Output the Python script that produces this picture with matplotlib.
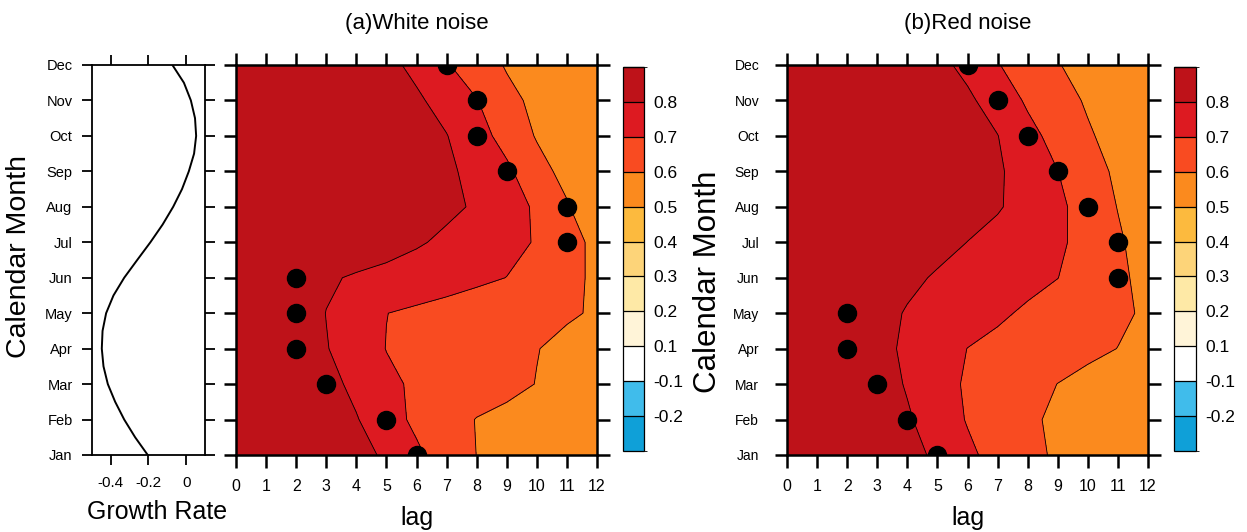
import numpy as np
import matplotlib.pyplot as plt
from matplotlib.colors import ListedColormap, BoundaryNorm

plt.rcParams['font.family'] = ['Liberation Sans', 'DejaVu Sans']

# ------------------------------------------------------------
# Data
# ------------------------------------------------------------
MONTHS = ["Jan", "Feb", "Mar", "Apr", "May", "Jun",
          "Jul", "Aug", "Sep", "Oct", "Nov", "Dec"]
MONTH_POS = list(range(1, 13))
LAGS = list(range(0, 13))

# growth rate curve, sampled every half month (Jan .. Dec)
GROWTH_POS = [1, 1.5, 2, 2.5, 3, 3.5, 4, 4.5, 5, 5.5, 6, 6.5,
              7, 7.5, 8, 8.5, 9, 9.5, 10, 10.5, 11, 11.5, 12]
GROWTH_RATE = [-0.204, -0.271, -0.329, -0.377, -0.416, -0.439, -0.448, -0.444,
               -0.425, -0.386, -0.329, -0.260, -0.190, -0.125, -0.069, -0.022,
               0.014, 0.042, 0.053, 0.047, 0.025, -0.012, -0.073]

# lagged correlation, rows = month (Jan .. Dec), columns = lag 0 .. 12
WHITE_NOISE = [
    [1.00, 0.958, 0.916, 0.875, 0.833, 0.785, 0.716, 0.655, 0.599, 0.582, 0.565, 0.547, 0.530],
    [1.00, 0.951, 0.903, 0.854, 0.806, 0.739, 0.681, 0.637, 0.597, 0.580, 0.564, 0.547, 0.530],
    [1.00, 0.944, 0.888, 0.832, 0.776, 0.719, 0.686, 0.664, 0.643, 0.621, 0.598, 0.578, 0.557],
    [1.00, 0.935, 0.870, 0.805, 0.749, 0.698, 0.679, 0.660, 0.640, 0.621, 0.602, 0.583, 0.563],
    [1.00, 0.932, 0.865, 0.798, 0.749, 0.701, 0.685, 0.670, 0.654, 0.639, 0.624, 0.608, 0.593],
    [1.00, 0.938, 0.877, 0.815, 0.787, 0.769, 0.752, 0.735, 0.717, 0.699, 0.662, 0.623, 0.585],
    [1.00, 0.968, 0.937, 0.905, 0.874, 0.842, 0.811, 0.781, 0.753, 0.725, 0.694, 0.635, 0.577],
    [1.00, 0.974, 0.949, 0.923, 0.897, 0.871, 0.846, 0.820, 0.789, 0.740, 0.687, 0.608, 0.530],
    [1.00, 0.974, 0.947, 0.921, 0.894, 0.868, 0.841, 0.815, 0.775, 0.719, 0.633, 0.572, 0.530],
    [1.00, 0.972, 0.944, 0.916, 0.888, 0.860, 0.831, 0.803, 0.739, 0.664, 0.593, 0.562, 0.530],
    [1.00, 0.969, 0.938, 0.907, 0.876, 0.845, 0.814, 0.766, 0.704, 0.623, 0.581, 0.556, 0.530],
    [1.00, 0.965, 0.930, 0.894, 0.859, 0.824, 0.778, 0.708, 0.643, 0.593, 0.572, 0.551, 0.530],
]

RED_NOISE = [
    [1.00, 0.958, 0.916, 0.873, 0.831, 0.783, 0.719, 0.667, 0.621, 0.589, 0.569, 0.549, 0.530],
    [1.00, 0.953, 0.906, 0.858, 0.811, 0.753, 0.694, 0.653, 0.612, 0.587, 0.568, 0.549, 0.530],
    [1.00, 0.948, 0.896, 0.845, 0.792, 0.736, 0.689, 0.659, 0.629, 0.599, 0.576, 0.553, 0.530],
    [1.00, 0.944, 0.888, 0.832, 0.782, 0.740, 0.699, 0.679, 0.659, 0.639, 0.619, 0.599, 0.579],
    [1.00, 0.946, 0.892, 0.837, 0.792, 0.766, 0.740, 0.713, 0.688, 0.663, 0.639, 0.614, 0.589],
    [1.00, 0.956, 0.911, 0.867, 0.823, 0.789, 0.767, 0.745, 0.723, 0.701, 0.660, 0.617, 0.574],
    [1.00, 0.966, 0.933, 0.899, 0.866, 0.832, 0.799, 0.771, 0.742, 0.714, 0.671, 0.613, 0.555],
    [1.00, 0.973, 0.945, 0.918, 0.890, 0.863, 0.835, 0.808, 0.766, 0.719, 0.661, 0.597, 0.532],
    [1.00, 0.973, 0.946, 0.919, 0.892, 0.865, 0.838, 0.811, 0.763, 0.701, 0.640, 0.583, 0.530],
    [1.00, 0.972, 0.943, 0.915, 0.887, 0.859, 0.830, 0.802, 0.730, 0.666, 0.610, 0.568, 0.530],
    [1.00, 0.969, 0.939, 0.908, 0.877, 0.847, 0.816, 0.760, 0.686, 0.635, 0.590, 0.560, 0.530],
    [1.00, 0.965, 0.930, 0.894, 0.859, 0.824, 0.777, 0.705, 0.653, 0.603, 0.578, 0.554, 0.530],
]

# lag of the black dots for each month (Jan .. Dec)
WHITE_DOTS = [6, 5, 3, 2, 2, 2, 11, 11, 9, 8, 8, 7]
RED_DOTS = [5, 4, 3, 2, 2, 11, 11, 10, 9, 8, 7, 6]

BOUNDS = [-1.0, -0.2, -0.1, 0.1, 0.2, 0.3, 0.4, 0.5, 0.6, 0.7, 0.8, 1.01]
CB_LABELS = ["-0.2", "-0.1", "0.1", "0.2", "0.3", "0.4", "0.5", "0.6", "0.7", "0.8"]
COLORS = ['#0FA0D8', '#40BCEB', '#FFFFFF', '#FFF4D8', '#FEE9A6', '#FDD479',
          '#FCBA3E', '#FB8A1E', '#F94B21', '#DD1A21', '#BE1219']

W, H = 1247, 532


def fig_rect(x0, y0, x1, y1):
    # pixel box (top-left origin) -> figure fraction rect
    return [x0 / W, 1 - y1 / H, (x1 - x0) / W, (y1 - y0) / H]


def style_box(ax, lw, tick_len):
    for s in ax.spines.values():
        s.set_linewidth(lw)
    ax.tick_params(direction='out', length=tick_len, width=lw,
                   top=True, right=True, colors='black')


def draw_panel(fig, rect, cbar_rect, field, dots, title, show_months):
    ax = fig.add_axes(fig_rect(*rect))
    cax = fig.add_axes(fig_rect(*cbar_rect))

    cmap = ListedColormap(COLORS)
    norm = BoundaryNorm(BOUNDS, cmap.N)
    z = np.array(field)

    ax.contourf(LAGS, MONTH_POS, z, levels=BOUNDS, cmap=cmap, norm=norm)
    ax.contour(LAGS, MONTH_POS, z, levels=[0.6, 0.7, 0.8],
               colors='black', linewidths=0.6)
    ax.plot(dots, MONTH_POS, 'o', color='black', markersize=13,
            clip_on=True, zorder=5)

    ax.set_xlim(0, 12)
    ax.set_ylim(1, 12)
    ax.set_xticks(LAGS)
    ax.set_yticks(MONTH_POS)
    style_box(ax, 1.8, 9)
    ax.tick_params(axis='x', labelsize=11.5, pad=8)
    if show_months:
        ax.set_yticklabels(MONTHS, fontsize=10)
        ax.tick_params(axis='y', pad=11)
    else:
        ax.set_yticklabels([])

    cx = (rect[0] + rect[2]) / 2
    fig.text(cx / W, 1 - 24 / H, title, fontsize=16, ha='center', va='center')
    fig.text(cx / W, 1 - 518 / H, "lag", fontsize=18, ha='center', va='center')

    cb = fig.colorbar(plt.cm.ScalarMappable(norm=norm, cmap=cmap), cax=cax,
                      spacing='uniform', ticks=BOUNDS[1:-1], drawedges=True)
    cb.set_ticklabels(CB_LABELS)
    cb.outline.set_linewidth(0.9)
    cb.dividers.set_linewidth(0.9)
    cax.tick_params(length=0, pad=7, labelsize=12.5)
    return ax


fig = plt.figure(figsize=(W / 100, H / 100), dpi=100)

# ------------------------------------------------------------
# Growth rate panel
# ------------------------------------------------------------
ax0 = fig.add_axes(fig_rect(92, 65, 205, 455))
ax0.plot(GROWTH_RATE, GROWTH_POS, color='black', linewidth=1.4)
ax0.set_xlim(-0.5, 0.1)
ax0.set_ylim(1, 12)
ax0.set_xticks([-0.4, -0.2, 0])
ax0.set_xticklabels(["-0.4", "-0.2", "0"], fontsize=11)
ax0.set_yticks(MONTH_POS)
ax0.set_yticklabels(MONTHS, fontsize=10.5)
style_box(ax0, 1.3, 7)
ax0.tick_params(axis='x', pad=8)
ax0.tick_params(axis='y', pad=7)
fig.text(157 / W, 1 - 512 / H, "Growth Rate", fontsize=18, ha='center', va='center')
fig.text(19 / W, 1 - 256 / H, "Calendar Month", fontsize=20.5, rotation=90,
         ha='center', va='center')

# ------------------------------------------------------------
# Lag correlation panels
# ------------------------------------------------------------
draw_panel(fig, (236, 65, 597, 455), (623, 67, 644, 451), WHITE_NOISE,
           WHITE_DOTS, "(a)White noise", False)
draw_panel(fig, (787, 65, 1148, 455), (1174, 67, 1196, 451), RED_NOISE,
           RED_DOTS, "(b)Red noise", True)
fig.text(708 / W, 1 - 282 / H, "Calendar Month", fontsize=22.5, rotation=90,
         ha='center', va='center')

fig.savefig("out.png", dpi=100)
